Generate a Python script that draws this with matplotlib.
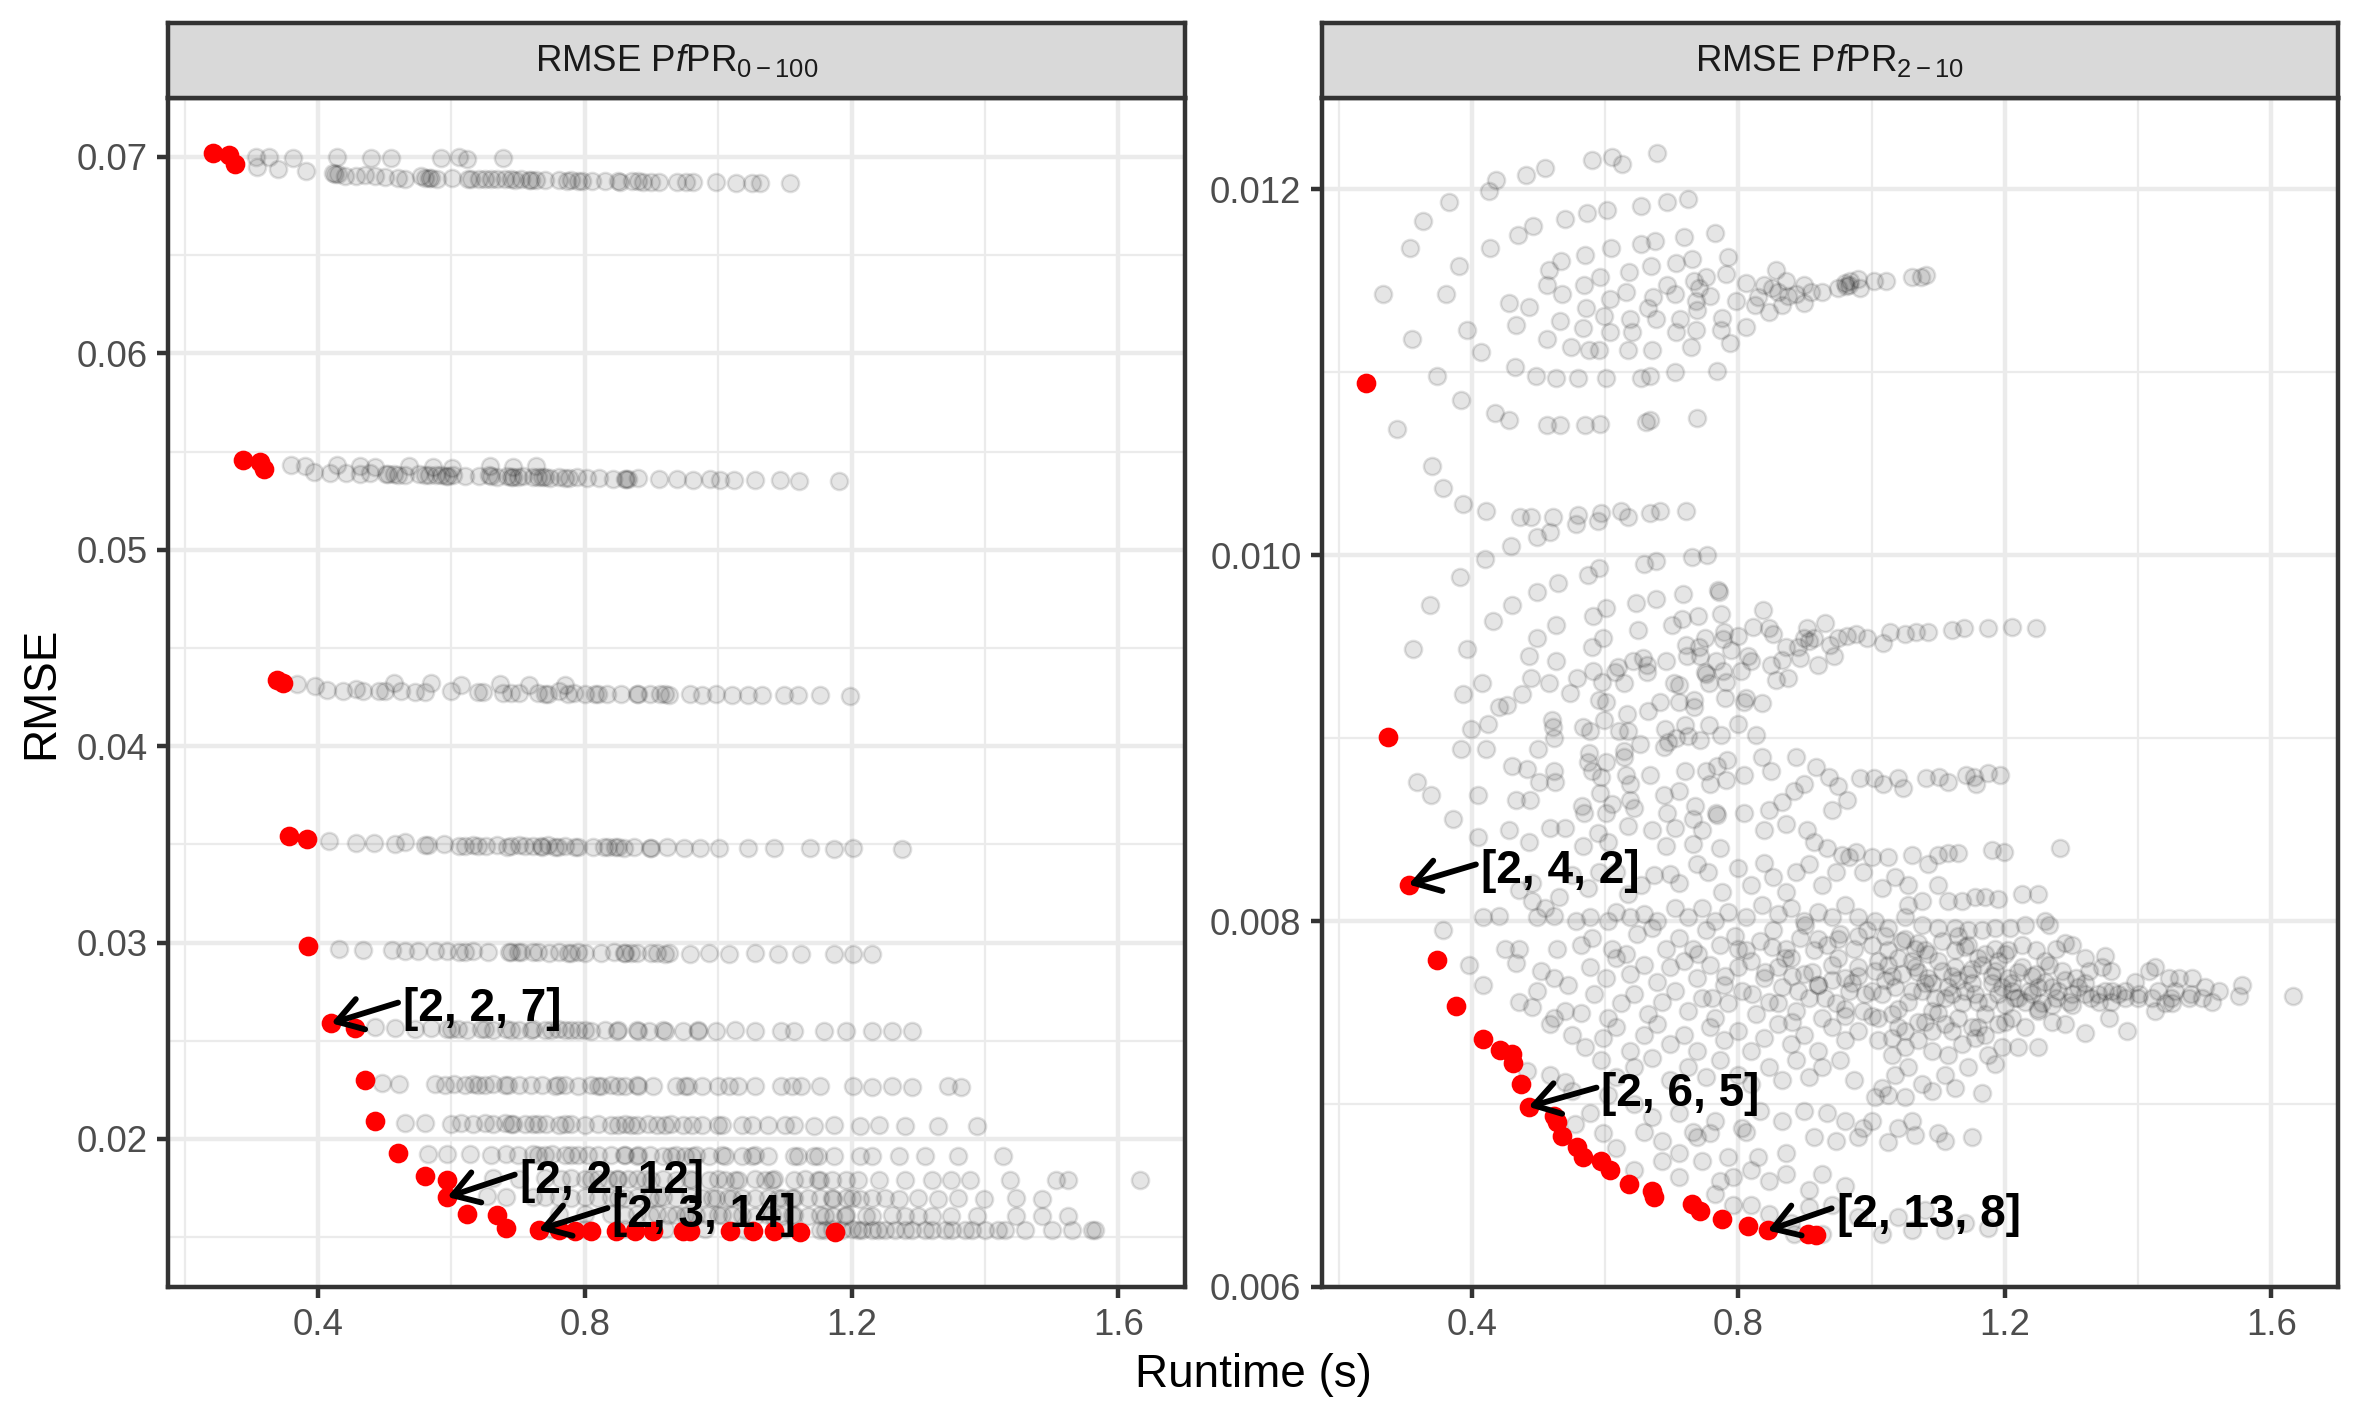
import matplotlib
matplotlib.use("Agg")
import matplotlib.pyplot as plt
from matplotlib.ticker import FixedLocator, FormatStrFormatter

plt.rcParams['font.family'] = ['Liberation Sans', 'DejaVu Sans']
plt.rcParams['mathtext.fontset'] = 'custom'
plt.rcParams['mathtext.rm'] = 'Liberation Sans'
plt.rcParams['mathtext.it'] = 'Liberation Sans:italic'

# ---------------- data: RMSE PfPR 0-100 (left facet) ----------------
pf0_front = [
    (0.242, 0.07022), (0.267, 0.07008), (0.276, 0.06965),
    (0.288, 0.05458), (0.313, 0.05447), (0.319, 0.05412),
    (0.339, 0.04339), (0.347, 0.04319),
    (0.356, 0.03542), (0.383, 0.03525),
    (0.385, 0.02983),
    (0.420, 0.02589), (0.455, 0.02566),
    (0.470, 0.02300), (0.486, 0.02090), (0.520, 0.01930),
    (0.560, 0.01810), (0.594, 0.01793), (0.594, 0.01704),
    (0.624, 0.01619), (0.668, 0.01614),
    (0.682, 0.01546), (0.731, 0.01537), (0.761, 0.01534), (0.785, 0.01532),
    (0.810, 0.01532), (0.847, 0.01532), (0.876, 0.01532), (0.903, 0.01532),
    (0.947, 0.01530), (0.957, 0.01530), (1.018, 0.01530), (1.052, 0.01530),
    (1.084, 0.01530), (1.122, 0.01528), (1.175, 0.01528),
]

pf0_row_070 = [
    (0.307, 0.07000), (0.327, 0.07000), (0.362, 0.06995), (0.428, 0.07000), (0.480, 0.06993),
    (0.509, 0.06993), (0.584, 0.06992), (0.612, 0.06998), (0.624, 0.06990), (0.678, 0.06994),
    (0.308, 0.06947), (0.340, 0.06936), (0.382, 0.06929), (0.422, 0.06918), (0.425, 0.06912),
    (0.457, 0.06902), (0.470, 0.06908), (0.486, 0.06902), (0.500, 0.06898), (0.520, 0.06895),
    (0.531, 0.06890), (0.555, 0.06902), (0.566, 0.06893), (0.578, 0.06890), (0.601, 0.06895),
    (0.629, 0.06890), (0.641, 0.06888), (0.659, 0.06886), (0.669, 0.06890), (0.690, 0.06886),
    (0.704, 0.06886), (0.716, 0.06882), (0.727, 0.06884), (0.761, 0.06880), (0.773, 0.06879),
    (0.796, 0.06879), (0.811, 0.06878), (0.830, 0.06879), (0.853, 0.06874), (0.871, 0.06877),
    (0.888, 0.06874), (0.911, 0.06874), (0.938, 0.06872), (0.951, 0.06873), (0.962, 0.06872),
    (0.997, 0.06870), (1.026, 0.06868), (1.051, 0.06869), (1.062, 0.06867), (1.108, 0.06867),
    (0.430, 0.06915), (0.440, 0.06905), (0.560, 0.06895), (0.570, 0.06892), (0.625, 0.06888),
    (0.650, 0.06889), (0.680, 0.06887), (0.695, 0.06884), (0.720, 0.06884), (0.740, 0.06883),
    (0.780, 0.06880), (0.790, 0.06878), (0.850, 0.06876), (0.880, 0.06875), (0.900, 0.06873),
]
pf0_row_054 = [
    (0.359, 0.05432), (0.380, 0.05425), (0.428, 0.05430), (0.463, 0.05428), (0.486, 0.05420),
    (0.537, 0.05425), (0.572, 0.05423), (0.601, 0.05418), (0.658, 0.05424), (0.693, 0.05420),
    (0.727, 0.05426),
    (0.394, 0.05398), (0.418, 0.05392), (0.442, 0.05390), (0.463, 0.05385), (0.478, 0.05392),
    (0.502, 0.05383), (0.514, 0.05386), (0.531, 0.05380), (0.552, 0.05384), (0.566, 0.05378),
    (0.577, 0.05382), (0.592, 0.05376), (0.603, 0.05380), (0.621, 0.05377), (0.642, 0.05374),
    (0.656, 0.05378), (0.668, 0.05372), (0.684, 0.05376), (0.692, 0.05370), (0.708, 0.05373),
    (0.722, 0.05368), (0.736, 0.05372), (0.748, 0.05366), (0.762, 0.05370), (0.777, 0.05366),
    (0.788, 0.05368), (0.803, 0.05364), (0.822, 0.05366), (0.843, 0.05362), (0.862, 0.05360),
    (0.880, 0.05364), (0.911, 0.05358), (0.938, 0.05360), (0.962, 0.05356), (0.987, 0.05358),
    (1.003, 0.05355), (1.024, 0.05356), (1.055, 0.05353), (1.092, 0.05356), (1.121, 0.05352),
    (1.181, 0.05352),
    (0.505, 0.05385), (0.520, 0.05382), (0.560, 0.05380), (0.585, 0.05378), (0.595, 0.05375),
    (0.660, 0.05375), (0.690, 0.05372), (0.700, 0.05370), (0.730, 0.05369), (0.740, 0.05368),
    (0.770, 0.05367), (0.860, 0.05362), (0.865, 0.05361),
]
pf0_row_043 = [
    (0.369, 0.04314), (0.396, 0.04305), (0.413, 0.04288), (0.437, 0.04280), (0.457, 0.04292),
    (0.467, 0.04280), (0.491, 0.04281), (0.514, 0.04322), (0.525, 0.04281), (0.560, 0.04275),
    (0.570, 0.04320), (0.599, 0.04280), (0.614, 0.04310), (0.648, 0.04276), (0.673, 0.04318),
    (0.677, 0.04272), (0.702, 0.04272), (0.717, 0.04310), (0.741, 0.04265), (0.761, 0.04280),
    (0.771, 0.04310), (0.784, 0.04268), (0.815, 0.04263), (0.834, 0.04266), (0.854, 0.04263),
    (0.878, 0.04263), (0.898, 0.04263), (0.913, 0.04265), (0.927, 0.04262), (0.957, 0.04263),
    (0.976, 0.04260), (0.996, 0.04263), (1.021, 0.04262), (1.045, 0.04262), (1.065, 0.04262),
    (1.099, 0.04262), (1.119, 0.04262), (1.153, 0.04262), (1.197, 0.04257),
    (0.500, 0.04282), (0.545, 0.04278), (0.640, 0.04274), (0.690, 0.04272), (0.730, 0.04268),
    (0.745, 0.04267), (0.775, 0.04266), (0.800, 0.04264), (0.820, 0.04265), (0.880, 0.04264),
    (0.920, 0.04263),
]
pf0_row_035 = [
    (0.416, 0.03515), (0.457, 0.03508), (0.484, 0.03505), (0.516, 0.03500), (0.530, 0.03510),
    (0.565, 0.03498), (0.589, 0.03500), (0.611, 0.03492), (0.633, 0.03495), (0.652, 0.03490),
    (0.668, 0.03498), (0.684, 0.03488), (0.702, 0.03495), (0.722, 0.03490), (0.736, 0.03488),
    (0.745, 0.03494), (0.756, 0.03486), (0.771, 0.03490), (0.785, 0.03485), (0.812, 0.03488),
    (0.829, 0.03484), (0.846, 0.03487), (0.859, 0.03483), (0.874, 0.03485), (0.898, 0.03482),
    (0.923, 0.03484), (0.948, 0.03481), (0.972, 0.03483), (1.001, 0.03480), (1.045, 0.03482),
    (1.084, 0.03480), (1.138, 0.03480), (1.173, 0.03478), (1.202, 0.03480), (1.275, 0.03476),
    (0.560, 0.03497), (0.620, 0.03493), (0.640, 0.03492), (0.690, 0.03490), (0.710, 0.03489),
    (0.735, 0.03490), (0.760, 0.03488), (0.790, 0.03486), (0.835, 0.03485), (0.850, 0.03484),
    (0.900, 0.03483),
]
pf0_row_030 = [
    (0.432, 0.02966), (0.467, 0.02962), (0.511, 0.02960), (0.530, 0.02955), (0.550, 0.02958),
    (0.575, 0.02955), (0.594, 0.02957), (0.612, 0.02952), (0.633, 0.02955), (0.655, 0.02950),
    (0.687, 0.02953), (0.705, 0.02950), (0.722, 0.02952), (0.746, 0.02948), (0.761, 0.02952),
    (0.775, 0.02947), (0.790, 0.02950), (0.824, 0.02946), (0.844, 0.02950), (0.859, 0.02945),
    (0.878, 0.02948), (0.908, 0.02945), (0.927, 0.02947), (0.957, 0.02944), (0.986, 0.02946),
    (1.016, 0.02944), (1.055, 0.02945), (1.089, 0.02942), (1.124, 0.02944), (1.173, 0.02942),
    (1.202, 0.02944), (1.231, 0.02942),
    (0.620, 0.02954), (0.690, 0.02951), (0.700, 0.02950), (0.730, 0.02950), (0.780, 0.02948),
    (0.800, 0.02948), (0.860, 0.02946), (0.870, 0.02945), (0.900, 0.02946), (0.920, 0.02944),
]
pf0_row_026 = [
    (0.486, 0.02570), (0.516, 0.02566), (0.545, 0.02560), (0.570, 0.02564), (0.594, 0.02558),
    (0.610, 0.02562), (0.624, 0.02556), (0.645, 0.02560), (0.663, 0.02556), (0.682, 0.02560),
    (0.702, 0.02555), (0.722, 0.02558), (0.741, 0.02554), (0.760, 0.02558), (0.771, 0.02554),
    (0.790, 0.02556), (0.810, 0.02552), (0.830, 0.02556), (0.849, 0.02552), (0.878, 0.02555),
    (0.897, 0.02551), (0.918, 0.02554), (0.947, 0.02551), (0.970, 0.02554), (0.996, 0.02550),
    (1.025, 0.02553), (1.055, 0.02550), (1.094, 0.02552), (1.114, 0.02549), (1.158, 0.02551),
    (1.192, 0.02549), (1.231, 0.02550), (1.261, 0.02548), (1.290, 0.02550),
    (0.600, 0.02560), (0.650, 0.02558), (0.690, 0.02557), (0.720, 0.02556), (0.750, 0.02555),
    (0.780, 0.02554), (0.800, 0.02554), (0.850, 0.02553), (0.880, 0.02552), (0.920, 0.02552),
    (0.970, 0.02551),
]
pf0_row_023 = [
    (0.496, 0.02285), (0.521, 0.02280), (0.575, 0.02282), (0.590, 0.02276), (0.604, 0.02280),
    (0.620, 0.02275), (0.633, 0.02278), (0.650, 0.02274), (0.663, 0.02278), (0.685, 0.02274),
    (0.702, 0.02277), (0.720, 0.02272), (0.736, 0.02276), (0.755, 0.02271), (0.771, 0.02275),
    (0.790, 0.02271), (0.810, 0.02274), (0.825, 0.02270), (0.839, 0.02273), (0.860, 0.02270),
    (0.878, 0.02272), (0.903, 0.02269), (0.937, 0.02271), (0.955, 0.02268), (0.976, 0.02270),
    (1.016, 0.02268), (1.055, 0.02270), (1.094, 0.02267), (1.124, 0.02269), (1.153, 0.02267),
    (1.202, 0.02268), (1.231, 0.02266), (1.261, 0.02268), (1.290, 0.02266), (1.344, 0.02268),
    (1.364, 0.02266),
    (0.640, 0.02276), (0.680, 0.02275), (0.760, 0.02272), (0.820, 0.02271), (0.850, 0.02270),
    (0.880, 0.02270), (0.950, 0.02269), (1.000, 0.02269), (1.030, 0.02268), (1.110, 0.02268),
]
pf0_row_021 = [
    (0.530, 0.02082), (0.560, 0.02080), (0.599, 0.02078), (0.615, 0.02082), (0.633, 0.02076),
    (0.650, 0.02080), (0.663, 0.02075), (0.680, 0.02079), (0.692, 0.02074), (0.710, 0.02078),
    (0.722, 0.02074), (0.742, 0.02077), (0.761, 0.02073), (0.780, 0.02076), (0.800, 0.02072),
    (0.820, 0.02076), (0.839, 0.02072), (0.860, 0.02075), (0.878, 0.02071), (0.895, 0.02074),
    (0.908, 0.02070), (0.930, 0.02074), (0.947, 0.02070), (0.976, 0.02073), (1.006, 0.02070),
    (1.035, 0.02072), (1.075, 0.02069), (1.114, 0.02071), (1.143, 0.02068), (1.173, 0.02070),
    (1.212, 0.02068), (1.241, 0.02070), (1.280, 0.02067), (1.329, 0.02068), (1.388, 0.02066),
    (0.690, 0.02076), (0.730, 0.02075), (0.770, 0.02074), (0.850, 0.02073), (0.870, 0.02072),
    (0.920, 0.02071), (0.960, 0.02071), (1.000, 0.02070), (1.050, 0.02070), (1.100, 0.02069),
]
pf0_row_019 = [
    (0.565, 0.01925), (0.594, 0.01922), (0.628, 0.01924), (0.660, 0.01920), (0.682, 0.01923),
    (0.700, 0.01919), (0.722, 0.01922), (0.740, 0.01918), (0.751, 0.01921), (0.770, 0.01917),
    (0.790, 0.01920), (0.805, 0.01916), (0.820, 0.01919), (0.840, 0.01916), (0.859, 0.01919),
    (0.878, 0.01915), (0.898, 0.01918), (0.918, 0.01915), (0.937, 0.01917), (0.950, 0.01914),
    (0.967, 0.01917), (0.986, 0.01914), (1.006, 0.01916), (1.035, 0.01913), (1.055, 0.01916),
    (1.075, 0.01913), (1.114, 0.01915), (1.143, 0.01912), (1.173, 0.01914), (1.212, 0.01912),
    (1.231, 0.01914), (1.271, 0.01912), (1.310, 0.01913), (1.359, 0.01911), (1.427, 0.01912),
    (0.730, 0.01920), (0.780, 0.01918), (0.860, 0.01917), (0.880, 0.01916), (0.930, 0.01915),
    (0.960, 0.01915), (1.010, 0.01914), (1.050, 0.01913), (1.120, 0.01913), (1.150, 0.01912),
]
pf0_row_018 = [
    (0.663, 0.01802), (0.702, 0.01798), (0.741, 0.01800), (0.765, 0.01796), (0.780, 0.01799),
    (0.800, 0.01795), (0.820, 0.01798), (0.835, 0.01794), (0.849, 0.01797), (0.865, 0.01794),
    (0.878, 0.01797), (0.900, 0.01793), (0.918, 0.01796), (0.937, 0.01792), (0.957, 0.01795),
    (0.986, 0.01792), (1.000, 0.01795), (1.025, 0.01791), (1.055, 0.01794), (1.070, 0.01791),
    (1.084, 0.01794), (1.114, 0.01791), (1.130, 0.01794), (1.153, 0.01790), (1.192, 0.01793),
    (1.210, 0.01790), (1.241, 0.01792), (1.280, 0.01790), (1.320, 0.01792), (1.349, 0.01790),
    (1.378, 0.01792), (1.437, 0.01790), (1.506, 0.01791), (1.525, 0.01790), (1.633, 0.01790),
    (0.810, 0.01796), (0.850, 0.01795), (0.890, 0.01794), (0.960, 0.01793), (1.010, 0.01793),
    (1.030, 0.01792), (1.080, 0.01792), (1.150, 0.01791), (1.170, 0.01791),
]
pf0_row_017 = [
    (0.653, 0.01708), (0.682, 0.01704), (0.722, 0.01706), (0.741, 0.01702), (0.761, 0.01705),
    (0.780, 0.01701), (0.800, 0.01704), (0.820, 0.01700), (0.839, 0.01703), (0.860, 0.01700),
    (0.878, 0.01703), (0.898, 0.01699), (0.918, 0.01702), (0.937, 0.01699), (0.957, 0.01702),
    (0.976, 0.01698), (0.996, 0.01701), (1.015, 0.01698), (1.035, 0.01701), (1.055, 0.01697),
    (1.075, 0.01700), (1.095, 0.01697), (1.114, 0.01700), (1.135, 0.01697), (1.153, 0.01699),
    (1.172, 0.01696), (1.192, 0.01699), (1.212, 0.01696), (1.231, 0.01698), (1.271, 0.01696),
    (1.300, 0.01698), (1.329, 0.01696), (1.359, 0.01697), (1.398, 0.01696), (1.447, 0.01697),
    (1.486, 0.01696),
    (0.850, 0.01701), (0.910, 0.01700), (0.990, 0.01699), (1.020, 0.01699), (1.090, 0.01698),
    (1.110, 0.01698), (1.170, 0.01697), (1.200, 0.01697), (1.250, 0.01697),
]
pf0_row_016 = [
    (0.761, 0.01620), (0.800, 0.01616), (0.839, 0.01618), (0.860, 0.01614), (0.878, 0.01617),
    (0.898, 0.01613), (0.908, 0.01616), (0.925, 0.01612), (0.937, 0.01615), (0.955, 0.01612),
    (0.967, 0.01614), (0.985, 0.01611), (1.006, 0.01614), (1.020, 0.01611), (1.035, 0.01613),
    (1.055, 0.01610), (1.075, 0.01613), (1.095, 0.01610), (1.114, 0.01612), (1.135, 0.01609),
    (1.153, 0.01612), (1.172, 0.01609), (1.192, 0.01611), (1.222, 0.01609), (1.261, 0.01611),
    (1.300, 0.01609), (1.349, 0.01610), (1.388, 0.01609), (1.447, 0.01610), (1.486, 0.01609),
    (1.525, 0.01610),
    (0.950, 0.01613), (1.000, 0.01612), (1.080, 0.01611), (1.110, 0.01611), (1.160, 0.01610),
    (1.190, 0.01610), (1.230, 0.01610), (1.280, 0.01610), (1.320, 0.01609),
]
pf0_row_015 = [
    (0.750, 0.01542), (0.800, 0.01540), (0.860, 0.01541), (0.920, 0.01539), (0.980, 0.01540),
    (1.040, 0.01538), (1.100, 0.01539), (1.153, 0.01537), (1.170, 0.01540), (1.185, 0.01536),
    (1.200, 0.01539), (1.215, 0.01536), (1.230, 0.01538), (1.250, 0.01535), (1.265, 0.01538),
    (1.290, 0.01535), (1.310, 0.01537), (1.340, 0.01535), (1.370, 0.01537), (1.400, 0.01535),
    (1.430, 0.01536), (1.460, 0.01535), (1.500, 0.01536), (1.530, 0.01535), (1.565, 0.01536),
    (1.160, 0.01538), (1.210, 0.01537), (1.240, 0.01537), (1.280, 0.01536), (1.320, 0.01536),
    (1.350, 0.01536), (1.380, 0.01536), (1.420, 0.01535), (1.560, 0.01536),
]
pf0_rows = [pf0_row_070, pf0_row_054, pf0_row_043, pf0_row_035, pf0_row_030, pf0_row_026,
            pf0_row_023, pf0_row_021, pf0_row_019, pf0_row_018, pf0_row_017, pf0_row_016,
            pf0_row_015]

# ---------------- data: RMSE PfPR 2-10 (right facet) ----------------
pf2_front = [
    (0.2416, 0.010942), (0.2745, 0.009004), (0.305, 0.00820), (0.348, 0.007785),
    (0.376, 0.007536), (0.416, 0.007355), (0.442, 0.007295), (0.460, 0.007273),
    (0.462, 0.007227), (0.473, 0.007109), (0.485, 0.006985), (0.523, 0.006936),
    (0.527, 0.006900), (0.535, 0.006827), (0.558, 0.006764), (0.567, 0.006709),
    (0.594, 0.006691), (0.607, 0.006640), (0.636, 0.006564), (0.670, 0.006527),
    (0.674, 0.006491), (0.730, 0.006455), (0.743, 0.006418), (0.775, 0.006373),
    (0.815, 0.006336), (0.844, 0.006309), (0.905, 0.006291), (0.916, 0.006282),
]

pf2_upper = [
    (0.678, 0.01220), (0.611, 0.01218), (0.625, 0.01214), (0.581, 0.01216), (0.510, 0.01212),
    (0.481, 0.01208), (0.436, 0.01205), (0.426, 0.01199), (0.366, 0.01193), (0.326, 0.01183),
    (0.307, 0.01168), (0.266, 0.01143), (0.310, 0.01118), (0.348, 0.01098), (0.383, 0.01085),
    (0.288, 0.01069), (0.340, 0.01049), (0.357, 0.01037),
    (0.725, 0.01195), (0.693, 0.01193), (0.654, 0.01191), (0.603, 0.01189), (0.573, 0.01187),
    (0.539, 0.01184), (0.491, 0.01180), (0.469, 0.01175), (0.427, 0.01168), (0.380, 0.01158),
    (0.361, 0.01143), (0.392, 0.01123), (0.414, 0.01111), (0.465, 0.01103), (0.496, 0.01098),
    (0.526, 0.01097), (0.559, 0.01097), (0.602, 0.01097), (0.654, 0.01097), (0.667, 0.01098),
    (0.705, 0.01100), (0.768, 0.01101), (0.434, 0.01078), (0.456, 0.01074), (0.513, 0.01071),
    (0.532, 0.01071), (0.570, 0.01071), (0.593, 0.01072), (0.662, 0.01073), (0.668, 0.01074),
    (0.738, 0.01075),
    (0.765, 0.01176), (0.718, 0.01174), (0.675, 0.01172), (0.654, 0.01170), (0.609, 0.01168),
    (0.570, 0.01164), (0.533, 0.01161), (0.515, 0.01156), (0.513, 0.01148), (0.535, 0.01143),
    (0.456, 0.01138), (0.485, 0.01136), (0.466, 0.01126), (0.513, 0.01118), (0.548, 0.01114),
    (0.576, 0.01112), (0.591, 0.01112), (0.635, 0.01112), (0.670, 0.01112), (0.729, 0.01114),
    (0.787, 0.01116), (0.774, 0.01123), (0.737, 0.01123), (0.707, 0.01122), (0.641, 0.01122),
    (0.607, 0.01122), (0.567, 0.01124), (0.532, 0.01128), (0.571, 0.01135), (0.599, 0.01131),
    (0.608, 0.01140), (0.569, 0.01148), (0.593, 0.01152), (0.636, 0.01155), (0.669, 0.01158),
    (0.707, 0.01160), (0.731, 0.01162), (0.785, 0.01163), (0.782, 0.01154), (0.752, 0.01152),
    (0.734, 0.01150), (0.693, 0.01148), (0.705, 0.01143), (0.741, 0.01146), (0.758, 0.01142),
    (0.672, 0.01141), (0.664, 0.01135), (0.632, 0.01144), (0.638, 0.01129), (0.677, 0.01129),
    (0.713, 0.01129), (0.738, 0.01134), (0.775, 0.01130), (0.737, 0.01139),
    (0.797, 0.01139), (0.812, 0.01149), (0.812, 0.01125), (0.825, 0.01137), (0.839, 0.01148),
    (0.846, 0.01133), (0.857, 0.01156), (0.859, 0.01144), (0.866, 0.01137), (0.872, 0.01150),
    (0.886, 0.01143), (0.898, 0.01148), (0.899, 0.01138), (0.909, 0.01144), (0.925, 0.01144),
    (0.950, 0.01146), (0.960, 0.01149), (0.966, 0.01148), (0.980, 0.01151), (0.983, 0.01146),
    (1.003, 0.01150), (1.021, 0.01150), (1.060, 0.01152), (1.074, 0.01152), (1.081, 0.01153),
    (0.962, 0.01147), (0.968, 0.01150), (0.830, 0.01141), (0.850, 0.01146), (0.875, 0.01142),
]

pf2_middle = [
    (0.386, 0.01028), (0.421, 0.01024), (0.472, 0.01021), (0.488, 0.01021), (0.521, 0.01021),
    (0.559, 0.01022), (0.594, 0.01023), (0.624, 0.01024), (0.634, 0.01021), (0.668, 0.01023),
    (0.683, 0.01024), (0.722, 0.01024), (0.589, 0.01019), (0.557, 0.01017), (0.517, 0.01013),
    (0.498, 0.01010), (0.459, 0.01005), (0.419, 0.00998), (0.382, 0.00988), (0.337, 0.00973),
    (0.311, 0.00949), (0.387, 0.00924), (0.398, 0.00905), (0.384, 0.00894), (0.317, 0.00876),
    (0.338, 0.00869), (0.371, 0.00856), (0.421, 0.00894), (0.409, 0.00869), (0.424, 0.00908),
    (0.415, 0.00930), (0.440, 0.00917), (0.453, 0.00918), (0.431, 0.00964), (0.460, 0.00973),
    (0.497, 0.00980), (0.529, 0.00985), (0.575, 0.00989), (0.591, 0.00993), (0.659, 0.00995),
    (0.676, 0.00997), (0.730, 0.00999), (0.753, 0.01000), (0.392, 0.00949), (0.485, 0.00945),
    (0.497, 0.00955), (0.526, 0.00962), (0.526, 0.00942), (0.489, 0.00933), (0.475, 0.00924),
    (0.515, 0.00930), (0.547, 0.00925), (0.558, 0.00933), (0.580, 0.00950), (0.597, 0.00955),
    (0.582, 0.00967), (0.602, 0.00971), (0.647, 0.00974), (0.676, 0.00976), (0.717, 0.00979),
    (0.770, 0.00981), (0.771, 0.00980),
    (0.650, 0.00959), (0.700, 0.00962), (0.715, 0.00965), (0.739, 0.00967), (0.774, 0.00968),
    (0.837, 0.00970), (0.822, 0.00961), (0.852, 0.00957), (0.846, 0.00960), (0.903, 0.00960),
    (0.930, 0.00963), (0.872, 0.00950), (0.889, 0.00950), (0.906, 0.00953), (0.899, 0.00955),
    (0.913, 0.00955), (0.937, 0.00951), (0.950, 0.00955), (0.963, 0.00956), (0.977, 0.00957),
    (0.993, 0.00955), (1.017, 0.00952), (1.027, 0.00958), (1.050, 0.00957), (1.067, 0.00958),
    (1.084, 0.00958), (1.121, 0.00959), (1.138, 0.00960), (1.174, 0.00960), (1.210, 0.00961),
    (1.247, 0.00960),
    (0.893, 0.00944), (0.919, 0.00940), (0.943, 0.00945), (0.849, 0.00940), (0.866, 0.00943),
    (0.856, 0.00932), (0.874, 0.00933), (0.836, 0.00919), (0.812, 0.00922), (0.809, 0.00920),
    (0.780, 0.00922), (0.782, 0.00931), (0.756, 0.00930), (0.750, 0.00936), (0.752, 0.00935),
    (0.777, 0.00937), (0.804, 0.00937), (0.815, 0.00945), (0.819, 0.00942), (0.789, 0.00948),
    (0.799, 0.00956), (0.779, 0.00958), (0.777, 0.00954), (0.750, 0.00955), (0.741, 0.00950),
    (0.722, 0.00951), (0.723, 0.00945), (0.743, 0.00945), (0.767, 0.00942), (0.692, 0.00942),
    (0.663, 0.00940), (0.657, 0.00944), (0.642, 0.00942), (0.619, 0.00939), (0.615, 0.00936),
    (0.582, 0.00937), (0.595, 0.00931), (0.629, 0.00930), (0.663, 0.00936), (0.704, 0.00930),
    (0.711, 0.00929), (0.591, 0.00921), (0.601, 0.00920), (0.664, 0.00915), (0.683, 0.00920),
    (0.711, 0.00920), (0.734, 0.00921), (0.734, 0.00917),
    (0.520, 0.00910), (0.521, 0.00906), (0.523, 0.00900), (0.567, 0.00906), (0.577, 0.00904),
    (0.599, 0.00910), (0.621, 0.00904), (0.634, 0.00904), (0.633, 0.00913), (0.690, 0.00905),
    (0.720, 0.00907), (0.756, 0.00907), (0.799, 0.00908), (0.774, 0.00902), (0.725, 0.00901),
    (0.742, 0.00899), (0.707, 0.00900), (0.695, 0.00898), (0.688, 0.00895), (0.652, 0.00897),
    (0.827, 0.00902),
    (0.499, 0.00894), (0.460, 0.00885), (0.483, 0.00883), (0.501, 0.00876), (0.523, 0.00882),
    (0.524, 0.00876), (0.466, 0.00866), (0.487, 0.00866), (0.576, 0.00892), (0.574, 0.00887),
    (0.601, 0.00887), (0.628, 0.00893), (0.628, 0.00890), (0.581, 0.00882), (0.594, 0.00879),
    (0.631, 0.00880), (0.637, 0.00875), (0.668, 0.00880), (0.720, 0.00882), (0.752, 0.00882),
    (0.768, 0.00885), (0.783, 0.00888), (0.835, 0.00890), (0.886, 0.00890), (0.849, 0.00882),
    (0.809, 0.00880), (0.758, 0.00875), (0.781, 0.00877), (0.711, 0.00871), (0.688, 0.00869),
    (0.637, 0.00866), (0.593, 0.00870), (0.611, 0.00864), (0.566, 0.00863), (0.568, 0.00859),
    (0.601, 0.00859), (0.644, 0.00862), (0.693, 0.00859), (0.735, 0.00863), (0.767, 0.00859),
    (0.809, 0.00859), (0.846, 0.00861), (0.866, 0.00865), (0.883, 0.00871), (0.899, 0.00875),
    (0.916, 0.00884), (0.936, 0.00879), (0.950, 0.00874), (0.963, 0.00866), (0.940, 0.00861),
    (0.983, 0.00878), (1.003, 0.00878), (1.017, 0.00875), (1.040, 0.00878), (1.047, 0.00873),
    (1.081, 0.00878), (1.101, 0.00879), (1.114, 0.00876), (1.141, 0.00880), (1.154, 0.00879),
    (1.156, 0.00875), (1.174, 0.00881), (1.193, 0.00880),
    (0.409, 0.00846), (0.456, 0.00850), (0.517, 0.00851), (0.539, 0.00851), (0.589, 0.00848),
    (0.634, 0.00852), (0.671, 0.00850), (0.705, 0.00851), (0.732, 0.00856), (0.745, 0.00850),
    (0.768, 0.00858), (0.839, 0.00850), (0.872, 0.00853), (0.903, 0.00850),
]

pf2_lower = [
    (0.485, 0.00843), (0.567, 0.00841), (0.604, 0.00843), (0.691, 0.00841), (0.732, 0.00842),
    (0.772, 0.00840), (0.913, 0.00843), (0.933, 0.00840), (0.956, 0.00836), (0.976, 0.00838),
    (1.000, 0.00835), (1.025, 0.00835), (1.060, 0.00836), (1.085, 0.00831), (1.100, 0.00836),
    (1.115, 0.00837), (1.130, 0.00837), (1.180, 0.00839), (1.198, 0.00838), (1.282, 0.00840),
    (0.470, 0.00817), (0.490, 0.00821), (0.490, 0.00811), (0.510, 0.00807), (0.530, 0.00813),
    (0.550, 0.00825), (0.574, 0.00818), (0.591, 0.00827), (0.617, 0.00827), (0.634, 0.00815),
    (0.654, 0.00820), (0.674, 0.00825), (0.698, 0.00826), (0.711, 0.00821), (0.738, 0.00831),
    (0.755, 0.00827), (0.775, 0.00816), (0.799, 0.00829), (0.819, 0.00820), (0.839, 0.00832),
    (0.852, 0.00824), (0.872, 0.00816), (0.886, 0.00827), (0.906, 0.00831), (0.926, 0.00820),
    (0.946, 0.00827), (0.966, 0.00835), (0.987, 0.00827),
    (1.015, 0.00818), (1.035, 0.00824), (1.055, 0.00820), (1.075, 0.00811), (1.100, 0.00820),
    (1.115, 0.00811), (1.135, 0.00811), (1.155, 0.00813), (1.170, 0.00813), (1.190, 0.00812),
    (1.226, 0.00815), (1.250, 0.00815), (1.055, 0.00809),
    (0.416, 0.00802), (0.440, 0.00803), (0.497, 0.00802), (0.523, 0.00803), (0.557, 0.00800),
    (0.577, 0.00802), (0.604, 0.00800), (0.617, 0.00805), (0.638, 0.00802), (0.658, 0.00804),
    (0.678, 0.00800), (0.705, 0.00807), (0.725, 0.00802), (0.745, 0.00807), (0.765, 0.00800),
    (0.785, 0.00805), (0.812, 0.00802), (0.836, 0.00809), (0.859, 0.00804), (0.879, 0.00807),
    (0.899, 0.00800), (0.919, 0.00805), (0.940, 0.00802), (0.960, 0.00809), (0.980, 0.00802),
    (1.005, 0.00800), (1.025, 0.00796), (1.050, 0.00802), (1.075, 0.00798), (1.100, 0.00796),
    (1.125, 0.00796), (1.145, 0.00795), (1.165, 0.00795), (1.185, 0.00796), (1.208, 0.00796),
    (1.230, 0.00798), (1.260, 0.00800), (1.266, 0.00798),
    (0.356, 0.00795), (0.450, 0.00785), (0.470, 0.00785), (0.527, 0.00785), (0.564, 0.00787),
    (0.581, 0.00791), (0.611, 0.00785), (0.631, 0.00782), (0.648, 0.00793), (0.671, 0.00796),
    (0.691, 0.00785), (0.711, 0.00791), (0.732, 0.00785), (0.752, 0.00795), (0.772, 0.00787),
    (0.795, 0.00792), (0.812, 0.00784), (0.832, 0.00789), (0.852, 0.00795), (0.872, 0.00785),
    (0.893, 0.00791), (0.913, 0.00784), (0.933, 0.00787), (0.953, 0.00793), (0.973, 0.00785),
    (0.993, 0.00795), (1.000, 0.00787), (1.025, 0.00784), (1.045, 0.00789), (1.065, 0.00785),
    (1.085, 0.00782), (1.105, 0.00789), (1.125, 0.00784), (1.145, 0.00787), (1.170, 0.00782),
    (1.185, 0.00785), (1.205, 0.00784), (1.226, 0.00787), (1.246, 0.00784), (1.276, 0.00785),
    (1.290, 0.00788), (1.300, 0.00787), (1.320, 0.00780), (1.350, 0.00781),
    (0.396, 0.00776), (0.466, 0.00777), (0.503, 0.00773), (0.523, 0.00769), (0.544, 0.00765),
    (0.577, 0.00775), (0.601, 0.00769), (0.617, 0.00780), (0.638, 0.00771), (0.658, 0.00776),
    (0.678, 0.00767), (0.698, 0.00775), (0.718, 0.00778), (0.738, 0.00769), (0.758, 0.00776),
    (0.779, 0.00765), (0.799, 0.00775), (0.819, 0.00778), (0.839, 0.00769), (0.859, 0.00775),
    (0.879, 0.00780), (0.899, 0.00771), (0.919, 0.00765), (0.940, 0.00776), (0.960, 0.00769),
    (0.980, 0.00775), (1.005, 0.00773), (1.025, 0.00776), (1.045, 0.00771), (1.065, 0.00775),
    (1.085, 0.00769), (1.105, 0.00773), (1.125, 0.00775), (1.145, 0.00771), (1.165, 0.00776),
    (1.185, 0.00773), (1.205, 0.00769), (1.226, 0.00775), (1.246, 0.00771), (1.266, 0.00776),
    (1.286, 0.00773), (1.306, 0.00769), (1.326, 0.00773), (1.346, 0.00775), (1.360, 0.00773),
    (1.396, 0.00767), (1.416, 0.00773), (1.426, 0.00775), (1.446, 0.00769), (1.461, 0.00769),
    (1.481, 0.00769), (1.501, 0.00764), (1.521, 0.00762), (1.556, 0.00765),
    (0.416, 0.00765), (0.470, 0.00756), (0.490, 0.00753), (0.497, 0.00762), (0.523, 0.00747),
    (0.540, 0.00751), (0.564, 0.00750), (0.584, 0.00760), (0.604, 0.00747), (0.624, 0.00755),
    (0.644, 0.00760), (0.664, 0.00749), (0.685, 0.00756), (0.705, 0.00762), (0.725, 0.00751),
    (0.745, 0.00758), (0.765, 0.00747), (0.785, 0.00755), (0.805, 0.00762), (0.826, 0.00749),
    (0.846, 0.00756), (0.866, 0.00764), (0.886, 0.00751), (0.906, 0.00758), (0.926, 0.00747),
    (0.946, 0.00755), (0.966, 0.00762), (0.987, 0.00751),
    (1.015, 0.00760), (1.035, 0.00764), (1.055, 0.00756), (1.075, 0.00762), (1.095, 0.00758),
    (1.115, 0.00764), (1.135, 0.00755), (1.155, 0.00760), (1.175, 0.00756), (1.195, 0.00764),
    (1.215, 0.00758), (1.236, 0.00762), (1.256, 0.00755), (1.276, 0.00758), (1.296, 0.00756),
    (1.321, 0.00760), (1.341, 0.00756), (1.361, 0.00762), (1.381, 0.00758), (1.401, 0.00760),
    (1.421, 0.00758), (1.441, 0.00755), (1.456, 0.00762), (1.476, 0.00758), (1.496, 0.00758),
    (1.511, 0.00756), (1.551, 0.00759), (1.632, 0.00759),
    (0.517, 0.00744), (0.550, 0.00738), (0.570, 0.00731), (0.597, 0.00736), (0.617, 0.00742),
    (0.638, 0.00729), (0.658, 0.00738), (0.678, 0.00744), (0.698, 0.00733), (0.718, 0.00738),
    (0.738, 0.00729), (0.758, 0.00742), (0.779, 0.00735), (0.799, 0.00740), (0.819, 0.00729),
    (0.839, 0.00736), (0.859, 0.00744), (0.879, 0.00733), (0.899, 0.00738), (0.919, 0.00729),
    (0.940, 0.00742), (0.960, 0.00735), (0.980, 0.00740),
    (1.010, 0.00747), (1.030, 0.00749), (1.050, 0.00740), (1.070, 0.00745), (1.090, 0.00751),
    (1.110, 0.00744), (1.130, 0.00747), (1.150, 0.00742), (1.170, 0.00749), (1.190, 0.00744),
    (1.210, 0.00747), (1.230, 0.00742), (1.250, 0.00751), (1.270, 0.00745), (1.290, 0.00744),
    (1.320, 0.00739), (1.356, 0.00747), (1.383, 0.00740), (1.426, 0.00751), (1.451, 0.00755),
    (1.010, 0.00735), (1.030, 0.00727), (1.050, 0.00731), (1.070, 0.00735), (1.090, 0.00729),
    (1.115, 0.00727), (1.135, 0.00733), (1.155, 0.00736), (1.175, 0.00727), (1.195, 0.00731),
    (1.220, 0.00731), (1.250, 0.00731),
    (0.483, 0.00718), (0.517, 0.00716), (0.540, 0.00712), (0.594, 0.00724), (0.617, 0.00715),
    (0.644, 0.00720), (0.671, 0.00725), (0.698, 0.00713), (0.725, 0.00720), (0.752, 0.00715),
    (0.772, 0.00724), (0.799, 0.00716), (0.819, 0.00711), (0.846, 0.00720), (0.866, 0.00713),
    (0.886, 0.00724), (0.906, 0.00715), (0.926, 0.00720), (0.953, 0.00724), (0.973, 0.00713),
    (1.015, 0.00709), (1.035, 0.00716), (1.055, 0.00720), (1.075, 0.00711), (1.090, 0.00707),
    (1.110, 0.00716), (1.125, 0.00709), (1.145, 0.00720), (1.165, 0.00706), (1.185, 0.00722),
    (1.005, 0.00704), (1.025, 0.00705), (1.050, 0.00704),
    (0.550, 0.00707), (0.577, 0.00695), (0.604, 0.00705), (0.644, 0.00700), (0.671, 0.00693),
    (0.711, 0.00695), (0.732, 0.00685), (0.765, 0.00691), (0.805, 0.00687), (0.832, 0.00696),
    (0.866, 0.00691), (0.899, 0.00696), (0.933, 0.00695), (0.960, 0.00691), (0.987, 0.00687),
    (1.000, 0.00691), (1.040, 0.00687), (1.060, 0.00691), (1.065, 0.00683), (1.100, 0.00684),
    (1.110, 0.00680), (1.150, 0.00682), (1.025, 0.00679),
    (0.554, 0.00689), (0.597, 0.00684), (0.617, 0.00676), (0.658, 0.00685), (0.685, 0.00680),
    (0.711, 0.00673), (0.738, 0.00682), (0.758, 0.00684), (0.785, 0.00671), (0.812, 0.00685),
    (0.829, 0.00671), (0.872, 0.00673), (0.913, 0.00682), (0.946, 0.00680), (0.980, 0.00682),
    (0.644, 0.00664), (0.685, 0.00669), (0.711, 0.00660), (0.745, 0.00669), (0.772, 0.00658),
    (0.792, 0.00660), (0.819, 0.00664), (0.846, 0.00658), (0.872, 0.00662), (0.906, 0.00653),
    (0.926, 0.00662), (0.960, 0.00655),
    (0.765, 0.00651), (0.792, 0.00645), (0.819, 0.00645), (0.846, 0.00640), (0.879, 0.00635),
    (0.906, 0.00644), (0.940, 0.00645), (0.980, 0.00638), (0.883, 0.00629), (0.926, 0.00629),
    (1.015, 0.00629), (1.040, 0.00638), (1.060, 0.00631), (1.080, 0.00642), (1.110, 0.00631),
    (1.140, 0.00635), (1.175, 0.00632),
]

# the dark core of the lower cloud
pf2_core = [
    (0.870, 0.00780), (0.890, 0.00762), (0.910, 0.00772), (0.930, 0.00758), (0.950, 0.00780),
    (0.970, 0.00766), (0.990, 0.00760), (0.880, 0.00745), (0.920, 0.00790), (0.960, 0.00748),
    (0.980, 0.00792), (0.900, 0.00798), (0.940, 0.00768), (0.860, 0.00755), (0.840, 0.00772),
    (0.820, 0.00760), (0.800, 0.00785), (0.780, 0.00770), (0.760, 0.00758), (0.740, 0.00782),
    (1.020, 0.00768), (1.040, 0.00752), (1.060, 0.00778), (1.080, 0.00766), (1.100, 0.00750),
    (1.120, 0.00770), (1.140, 0.00762), (1.160, 0.00780), (1.180, 0.00766), (1.200, 0.00754),
    (1.220, 0.00772), (1.240, 0.00760), (1.260, 0.00767), (1.280, 0.00762), (1.300, 0.00760),
    (1.310, 0.00764), (1.330, 0.00758), (1.350, 0.00762), (1.370, 0.00760), (1.190, 0.00760),
    (1.210, 0.00762), (1.230, 0.00756), (1.250, 0.00764), (1.270, 0.00754), (1.050, 0.00790),
    (1.090, 0.00740), (1.130, 0.00792), (1.170, 0.00738), (1.030, 0.00736), (1.070, 0.00788),
    (1.110, 0.00758), (1.150, 0.00766),
    (0.980, 0.00770), (1.000, 0.00762), (1.010, 0.00778), (1.030, 0.00770), (1.040, 0.00780),
    (1.060, 0.00762), (1.070, 0.00772), (1.090, 0.00766), (1.100, 0.00778), (1.120, 0.00760),
    (1.130, 0.00768), (1.150, 0.00774), (1.160, 0.00756), (1.180, 0.00770), (1.190, 0.00778),
    (1.210, 0.00766), (1.220, 0.00758), (1.240, 0.00770), (1.250, 0.00752), (1.270, 0.00764),
    (1.290, 0.00768), (1.300, 0.00754), (1.320, 0.00766), (1.340, 0.00760), (1.360, 0.00756),
    (1.380, 0.00762), (1.400, 0.00758), (1.430, 0.00762), (1.450, 0.00758), (1.480, 0.00760),
    (1.200, 0.00745), (1.160, 0.00742), (1.120, 0.00740), (1.080, 0.00745), (1.040, 0.00742),
    (1.000, 0.00748), (0.960, 0.00752), (0.920, 0.00765), (0.880, 0.00770), (0.850, 0.00786),
    (0.950, 0.00790), (1.020, 0.00792), (1.080, 0.00784), (1.140, 0.00786), (1.200, 0.00782),
    (1.260, 0.00778),
]

# labelled configurations: (label, labelled point, arrow tail)
pf0_labels = [
    ("[2, 2, 7]", (0.420, 0.02589), (0.520, 0.02694)),
    ("[2, 2, 12]", (0.594, 0.01704), (0.695, 0.01818)),
    ("[2, 3, 14]", (0.731, 0.01537), (0.834, 0.01648)),
]
pf2_labels = [
    ("[2, 4, 2]", (0.305, 0.00820), (0.406, 0.00831)),
    ("[2, 6, 5]", (0.485, 0.006985), (0.587, 0.00709)),
    ("[2, 13, 8]", (0.844, 0.006309), (0.940, 0.00643)),
]

# ---------------- figure ----------------
W, H = 2362, 1417
fig = plt.figure(figsize=(W / 300, H / 300), dpi=300)


def box(x0, y0, x1, y1):
    return [x0 / W, 1 - y1 / H, (x1 - x0) / W, (y1 - y0) / H]


ax1 = fig.add_axes(box(168, 98, 1185, 1287))
ax2 = fig.add_axes(box(1322, 98, 2338, 1287))
st1 = fig.add_axes(box(168, 23, 1185, 98))
st2 = fig.add_axes(box(1322, 23, 2338, 98))

GREY = '#333333'


def style(ax, ylim, ymaj, ymin, fmt):
    ax.set_xlim(0.175, 1.70)
    ax.set_ylim(*ylim)
    ax.xaxis.set_major_locator(FixedLocator([0.4, 0.8, 1.2, 1.6]))
    ax.xaxis.set_minor_locator(FixedLocator([0.2, 0.6, 1.0, 1.4]))
    ax.yaxis.set_major_locator(FixedLocator(ymaj))
    ax.yaxis.set_minor_locator(FixedLocator(ymin))
    ax.xaxis.set_major_formatter(FormatStrFormatter('%.1f'))
    ax.yaxis.set_major_formatter(FormatStrFormatter(fmt))
    ax.grid(which='major', color='#EBEBEB', lw=1.07)
    ax.grid(which='minor', color='#EBEBEB', lw=0.53)
    ax.set_axisbelow(True)
    ax.tick_params(which='minor', length=0)
    ax.tick_params(which='major', length=2.75, width=1.07, color=GREY,
                   labelsize=8.8, labelcolor='#4D4D4D', pad=2.2)
    for sp in ax.spines.values():
        sp.set_color(GREY)
        sp.set_linewidth(1.07)


def draw(ax, clouds, front, labels):
    for pts in clouds:
        xs = [p[0] for p in pts]
        ys = [p[1] for p in pts]
        ax.scatter(xs, ys, s=17, facecolor=(0, 0, 0, 0.1), edgecolor=(0, 0, 0, 0.12),
                   linewidths=0.6, zorder=2)
    ax.scatter([p[0] for p in front], [p[1] for p in front], s=17, color='#FF0000',
               linewidths=0.6, zorder=3)
    for text, head, tail in labels:
        ax.annotate('', xy=head, xytext=tail,
                    arrowprops=dict(arrowstyle='->,head_length=0.6,head_width=0.38',
                                    mutation_scale=10, lw=1.4, color='black',
                                    shrinkA=0, shrinkB=0), zorder=4)
        ax.annotate(text, xy=tail, xytext=(1.2, -1.6), textcoords='offset points',
                    ha='left', va='center', fontsize=11, fontweight='bold',
                    color='black', zorder=5)


style(ax1, (0.01246, 0.0730), [0.02, 0.03, 0.04, 0.05, 0.06, 0.07],
      [0.015, 0.025, 0.035, 0.045, 0.055, 0.065], '%.2f')
style(ax2, (0.0060, 0.0125), [0.006, 0.008, 0.010, 0.012], [0.007, 0.009, 0.011], '%.3f')

draw(ax1, pf0_rows, pf0_front, pf0_labels)
draw(ax2, [pf2_upper, pf2_middle, pf2_lower, pf2_core], pf2_front, pf2_labels)

for st, title in [(st1, r'RMSE P$\mathit{f}$P$\mathrm{R}_{0-100}$'),
                  (st2, r'RMSE P$\mathit{f}$P$\mathrm{R}_{2-10}$')]:
    st.set_facecolor('#D9D9D9')
    st.set_xticks([])
    st.set_yticks([])
    for sp in st.spines.values():
        sp.set_color(GREY)
        sp.set_linewidth(1.07)
    st.text(0.5, 0.5, title, ha='center', va='center', fontsize=8.8, color='#1A1A1A',
            transform=st.transAxes)

fig.text(0.0174, 0.511, 'RMSE', rotation=90, ha='center', va='center', fontsize=11)
fig.text(0.5305, 0.0296, 'Runtime (s)', ha='center', va='center', fontsize=11)

fig.savefig('out.png', dpi=300)
